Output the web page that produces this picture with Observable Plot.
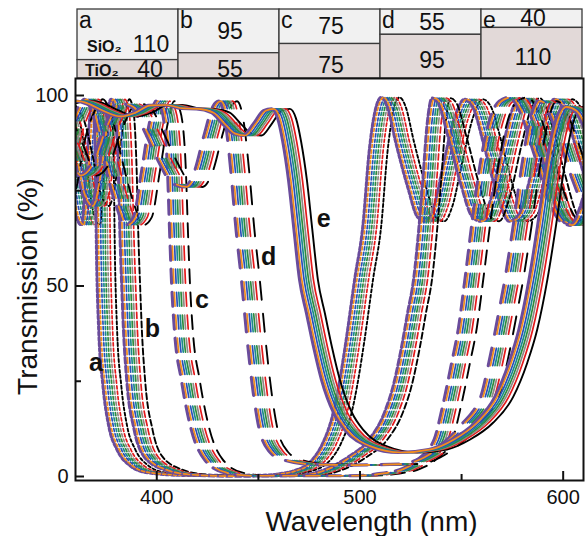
<!DOCTYPE html>
<html>
<head>
<meta charset="utf-8">
<script src="https://cdn.jsdelivr.net/npm/d3@7"></script>
<script src="https://cdn.jsdelivr.net/npm/@observablehq/plot@0.6"></script>
<style>
  html, body { margin: 0; padding: 0; background: #ffffff; }
  #chart { width: 588px; height: 536px; overflow: hidden; background: #ffffff; }
  #chart svg { display: block; }
</style>
</head>
<body>
<div id="chart"></div>
<script>
// ---------------- data ----------------
// header table: layer thickness (nm) of each design
const columns = ["a", "b", "c", "d", "e"];
const sio2Thickness = [110, 95, 75, 55, 40];
const tio2Thickness = [40, 55, 75, 95, 110];

// transmission spectra (centre of each bundle)
const aWave = [352,356,360,364,367.5,370,372.5,374,375,376,378,381,385,391,400,420,455,465,472,477,482,486,491.5,494.5,497.5,502,506,509,512,515,518,522,528,533,537,541,546,551,556,560,566,572,578,583,589,595,600,605,611,617];
const aTrans = [92,95,86,70,66,82,98,90,55,38,24,13,7,3,1,0.3,0.3,0.7,1.5,2.6,5,8.5,17,25,35,52,66,85,96,99.5,97,88,76,68,67,71,83,94,99,97,86,74,67,69,80,93,99,96,86,75];

const bWave = [352,356,360,364,368,372,376,379.5,382,384,385.5,386.5,387.3,388.2,389.8,393.4,398.3,408,420,440,475,487,499,509,516.6,521,525,528,531,533.5,535.5,537.5,540,543,548,554,560,564,569,575,580,584,589,596,603,608,613,618];
const bTrans = [99,97,93,84,74,71,80,94,99,96,82,62,50,38,25,12.3,5.2,1.8,0.5,0.1,0.3,1.8,5.2,9.7,16.8,24,34,43,52,65,78,92,99.3,98,89,77,68,67,73,87,97,99.3,94,80,68,66,71,82];

const cWave = [352,356,360,365,369,373,378,384,389,393,397,401,404,407,409.5,411,411.8,413.2,416.6,421.5,427.9,437.8,450,500,515,525,533,541,545,549.7,553,556,560,564,568,573,578,583,590,597,603,608,614,620];
const cTrans = [70,76,88,96,99,95,84,72,66,68,80,93,98.5,96,84,62,51,38.5,25.4,12.3,4.5,1.0,0.2,0.2,0.8,2,4.5,9.7,18,30,39,51,68,83,93,98.5,99.5,96,85,73,67,66,72,84];

const dWave = [352,356,360,366,372,379,386,392,399,406,412,418,423,428,432,435,438,441,443.5,446.2,449,452,455,460,466,480,500,525,535,541,548,555,560,564,568,572.8,575.8,580,584,588,592,596,602,609,615];
const dTrans = [95,91,86,79,82,92,98,97,90,82,77,76,80,90,97,98.5,94,80,65,51.6,36,22,12.3,6.5,4.5,3.2,3,3.3,5,7,10,14,17,21,30,43,51.6,66,81,93,98.5,97,89,78,70];

const eWave = [352,356,360,365,369,377,385.6,393,400.4,408,416.7,424,431.4,437,442,447,452,457,461,464,466.5,469.4,472,474.8,478.2,481.7,485.6,491.5,497,508.8,523.5,538.3,549.7,561,570.9,577.8,582.7,587.7,592,596,600,605,610,616];
const eTrans = [97,98,98.5,98.5,98,96,94.5,95.5,97.4,97.5,96.6,96.5,95.5,92.5,90,89.5,92.5,96,96.5,94,88,77.7,65,51.6,42.9,34,25.4,16.8,12.3,7.9,6.3,7.1,9.7,14.1,20.9,29.8,38.5,51.6,66,81,92,97,96,90];

// the coloured copies of each spectrum: red-shift (nm) of each copy, read from the bundles
const seriesColors = ["#000000", "#e41a1c", "#8e8a86", "#2e8b3e", "#1b8a8a", "#2a4fb8", "#6a4c9c", "#f28e1c"];
const seriesShifts = [4.5, 2.3, 1.0, -0.1, -1.2, -2.3, -4.5, -3.4];

// curve labels
const labelNames = ["a", "b", "c", "d", "e"];
const labelWave = [370.1, 397.9, 422.2, 455.1, 482.2];
const labelTrans = [29.7, 38.8, 46.4, 57.5, 67.5];

// axes
const xTickLabels = [400, 500, 600];
const xMinorTicks = [450, 550];
const yTickLabels = [0, 50, 100];
const yMinorTicks = [25, 75];

// ---------------- styles ----------------
const W = 588, headerH = 78, mainH = 458;
const mL = 75, mR = 5, mainMB = 56;
const frameH = mainH - mainMB;
const frameW = W - mL - mR;
const font = "'Liberation Sans', Arial, Helvetica, sans-serif";
const groupDash = ["3,2.4", "6,3", "14,9", "18,14", null];
const seriesWidth = c => c === "#6a4c9c" ? 3.2 : (c === "#000000" ? 1.9 : 1.7);

// ---------------- header (stacked layer table) ----------------
const headerRows = [];
columns.forEach((c, i) => {
  headerRows.push({col: c, layer: "SiO2", thick: sio2Thickness[i]});
  headerRows.push({col: c, layer: "TiO2", thick: tio2Thickness[i]});
});

const header = Plot.plot({
  width: W, height: headerH,
  marginLeft: mL, marginRight: mR, marginTop: 9, marginBottom: 0,
  x: {type: "band", domain: columns, padding: 0, axis: null},
  y: {domain: [0, 150], reverse: true, axis: null},
  color: {domain: ["SiO2", "TiO2"], range: ["#f1f1f1", "#e2d9d8"]},
  style: {fontFamily: font, fontSize: "23px", background: "transparent", overflow: "visible"},
  marks: [
    Plot.barY(headerRows, Plot.stackY({x: "col", y: "thick", fill: "layer", stroke: "#3a3a3a", strokeWidth: 1.3})),
    // numbers, columns b-e
    Plot.text(headerRows, Plot.stackY({x: "col", y: "thick",
      text: d => (d.col !== "a" && d.layer === "SiO2") ? String(d.thick) : null,
      fontSize: 23, dx: 1, dy: 0, fill: "#111"})),
    Plot.text(headerRows, Plot.stackY({x: "col", y: "thick",
      text: d => (d.col !== "a" && d.layer === "TiO2") ? String(d.thick) : null,
      fontSize: 23, dx: 1, dy: 4, fill: "#111"})),
    // column a: numbers and material names
    Plot.text(headerRows, Plot.stackY({x: "col", y: "thick",
      text: d => (d.col === "a" && d.layer === "SiO2") ? String(d.thick) : null,
      fontSize: 23, dx: 23, dy: 9.5, fill: "#111"})),
    Plot.text(headerRows, Plot.stackY({x: "col", y: "thick",
      text: d => (d.col === "a" && d.layer === "TiO2") ? String(d.thick) : null,
      fontSize: 23, dx: 22, dy: 0.5, fill: "#111"})),
    Plot.text(headerRows, Plot.stackY({x: "col", y: "thick",
      text: d => (d.col === "a" && d.layer === "SiO2") ? "SiO\u2082" : null,
      fontSize: 16, fontWeight: "bold", textAnchor: "start", dx: -41, dy: 12, fill: "#111"})),
    Plot.text(headerRows, Plot.stackY({x: "col", y: "thick",
      text: d => (d.col === "a" && d.layer === "TiO2") ? "TiO\u2082" : null,
      fontSize: 16, fontWeight: "bold", textAnchor: "start", dx: -43, dy: 1.5, fill: "#111"})),
    // column letters
    Plot.text(columns, {x: d => d, frameAnchor: "top", text: d => d, textAnchor: "start",
      lineAnchor: "bottom", dx: -49, dy: 18, fontSize: 23, fill: "#111"})
  ]
});

// ---------------- main spectra plot ----------------
const groups = [
  {wave: aWave, trans: aTrans},
  {wave: bWave, trans: bTrans},
  {wave: cWave, trans: cTrans},
  {wave: dWave, trans: dTrans},
  {wave: eWave, trans: eTrans}
];

const lineMarks = [];
groups.forEach((g, gi) => {
  seriesColors.forEach((col, ci) => {
    const pts = g.wave.map((w, i) => ({w: w + seriesShifts[ci], t: g.trans[i]}));
    const opts = {x: "w", y: "t", stroke: col, strokeWidth: seriesWidth(col),
      curve: "monotone-x", clip: true};
    if (groupDash[gi]) opts.strokeDasharray = groupDash[gi];
    lineMarks.push(Plot.line(pts, opts));
  });
});

const main = Plot.plot({
  width: W, height: mainH,
  marginLeft: mL, marginRight: mR, marginTop: 0, marginBottom: mainMB,
  x: {domain: [360, 610], ticks: xTickLabels, tickSize: 0, tickPadding: 9, label: null},
  y: {domain: [-1.05, 104.46], ticks: yTickLabels, tickSize: 0, tickPadding: 7, label: null},
  style: {fontFamily: font, fontSize: "20px", background: "#ffffff", color: "#111", overflow: "visible"},
  marks: [
    ...lineMarks,
    Plot.text(labelNames, {x: labelWave, y: labelTrans, text: labelNames,
      fontSize: 25, fontWeight: "bold", fill: "#111"}),
    Plot.frame({stroke: "#111", strokeWidth: 2}),
    Plot.tickX(xTickLabels, {x: d => d, insetTop: frameH - 9, stroke: "#111", strokeWidth: 2}),
    Plot.tickX(xMinorTicks, {x: d => d, insetTop: frameH - 6, stroke: "#111", strokeWidth: 2}),
    Plot.tickY(yTickLabels, {y: d => d, insetRight: frameW - 9, stroke: "#111", strokeWidth: 2}),
    Plot.tickY(yMinorTicks, {y: d => d, insetRight: frameW - 6, stroke: "#111", strokeWidth: 2}),
    Plot.text(["Wavelength (nm)"], {frameAnchor: "bottom", lineAnchor: "middle",
      dx: 42, dy: 42, fontSize: 28, fill: "#111"}),
    Plot.text(["Transmission (%)"], {frameAnchor: "left", lineAnchor: "middle", textAnchor: "middle",
      rotate: -90, dx: -47, dy: 7, fontSize: 28, fill: "#111"})
  ]
});

const root = document.getElementById("chart");
root.appendChild(header);
root.appendChild(main);
</script>
</body>
</html>
